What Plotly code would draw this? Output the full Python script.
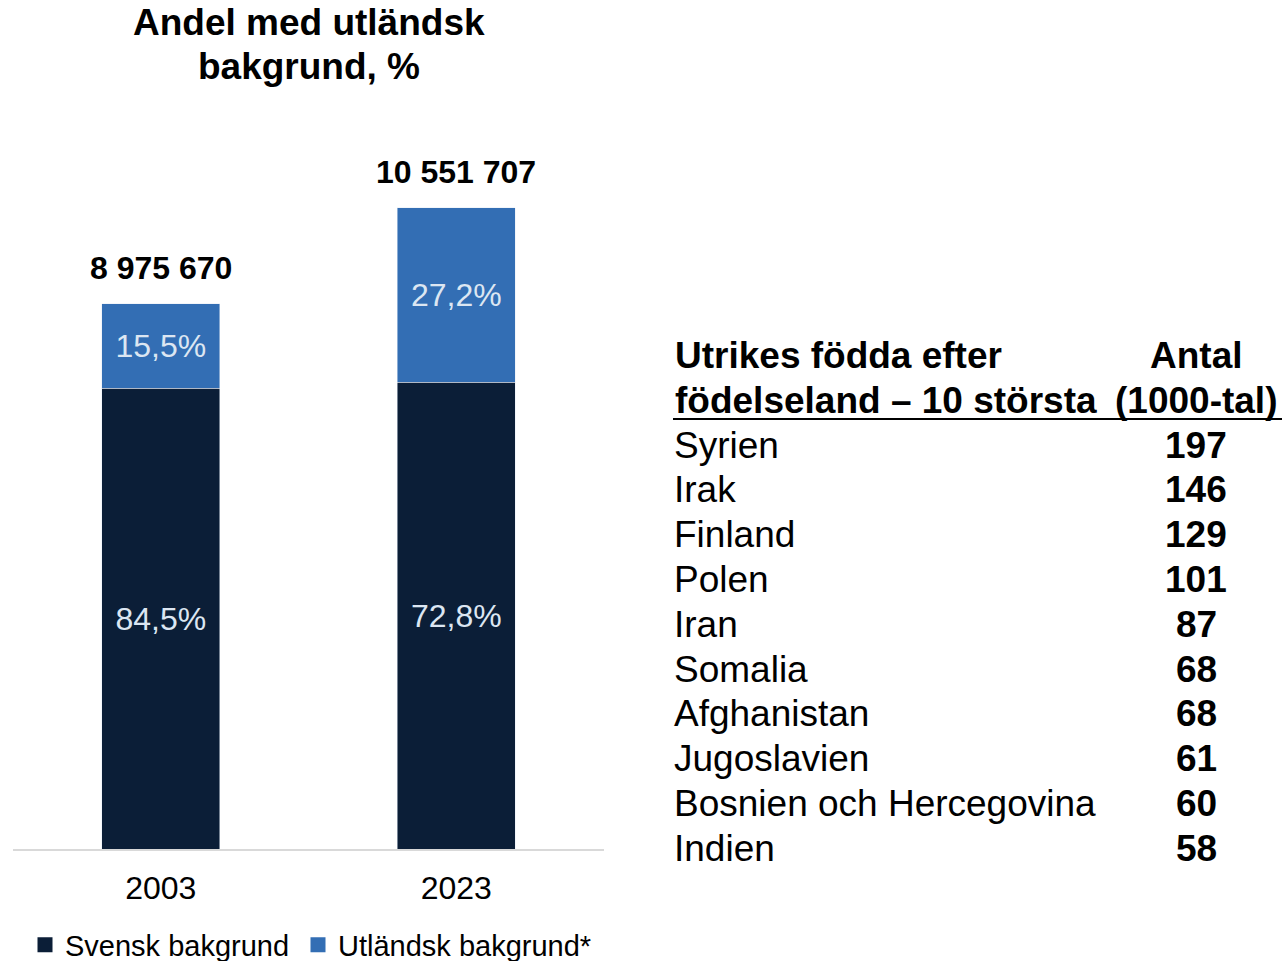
import plotly.graph_objects as go

# ---- data ----
years = ["2003", "2023"]
totals = [8975670, 10551707]
svensk_pct = [84.5, 72.8]
utl_pct = [15.5, 27.2]
series_names = ["Svensk bakgrund", "Utländsk bakgrund*"]

countries = ["Syrien", "Irak", "Finland", "Polen", "Iran", "Somalia",
             "Afghanistan", "Jugoslavien", "Bosnien och Hercegovina", "Indien"]
antal = [197, 146, 129, 101, 87, 68, 68, 61, 60, 58]

title_lines = ["Andel med utländsk", "bakgrund, %"]
table_head_left = ["Utrikes födda efter", "födelseland – 10 största"]
table_head_right = ["Antal", "(1000-tal)"]

# ---- style ----
W, H = 1284, 961
NAVY = "#0B1E37"
BLUE = "#336EB4"
LABEL = "#DCE6F2"
FONT = "Liberation Sans, Arial, sans-serif"
colors = [NAVY, BLUE]
legend_ids = ["legend", "legend2"]
legend_x = [25, 298]


def px(x):
    return x / W


def py(y):
    return 1 - y / H


def fmt_pct(v):
    return f"{v:.1f}".replace(".", ",") + "%"


def fmt_int(v):
    return f"{v:,}".replace(",", " ")


sv_vals = [t * p / 100 for t, p in zip(totals, svensk_pct)]
ut_vals = [t * p / 100 for t, p in zip(totals, utl_pct)]

fig = go.Figure()
for name, vals, pcts, col in zip(series_names, [sv_vals, ut_vals], [svensk_pct, utl_pct], colors):
    fig.add_trace(go.Bar(
        x=years, y=vals, name=name, marker_color=col, showlegend=False,
        text=[fmt_pct(v) for v in pcts], textposition="inside",
        textangle=0, insidetextanchor="middle",
        textfont=dict(color=LABEL, size=32, family=FONT),
        hoverinfo="skip"))
# legend entries with larger square swatches
for name, col, lid in zip(series_names, colors, legend_ids):
    fig.add_trace(go.Scatter(
        x=[None], y=[None], mode="markers", name=name, legend=lid,
        marker=dict(symbol="square", size=15, color=col), hoverinfo="skip"))

annotations = []
# totals above bars (x as category index)
for i, t in enumerate(totals):
    annotations.append(dict(x=i, y=t, xref="x", yref="y", text=f"<b>{fmt_int(t)}</b>",
                            showarrow=False, xanchor="center", yanchor="middle", yshift=36,
                            font=dict(size=32, color="black", family=FONT)))
# title
for i, line in enumerate(title_lines):
    annotations.append(dict(x=px(309), y=py(22 + 44 * i), xref="paper", yref="paper",
                            text=f"<b>{line}</b>", showarrow=False,
                            xanchor="center", yanchor="middle",
                            font=dict(size=37, color="black", family=FONT)))
# table header
for i, line in enumerate(table_head_left):
    annotations.append(dict(x=px(673), y=py(355 + 45 * i), xref="paper", yref="paper",
                            text=f"<b>{line}</b>", showarrow=False,
                            xanchor="left", yanchor="middle",
                            font=dict(size=37, color="black", family=FONT)))
for i, line in enumerate(table_head_right):
    annotations.append(dict(x=px(1196), y=py(355 + 45 * i), xref="paper", yref="paper",
                            text=f"<b>{line}</b>", showarrow=False,
                            xanchor="center", yanchor="middle",
                            font=dict(size=37, color="black", family=FONT)))
# table rows
row0, step = 445, 44.8
for i, (c, v) in enumerate(zip(countries, antal)):
    yy = py(row0 + step * i)
    annotations.append(dict(x=px(672), y=yy, xref="paper", yref="paper", text=c,
                            showarrow=False, xanchor="left", yanchor="middle",
                            font=dict(size=37, color="black", family=FONT)))
    annotations.append(dict(x=px(1196), y=yy, xref="paper", yref="paper", text=f"<b>{v}</b>",
                            showarrow=False, xanchor="center", yanchor="middle",
                            font=dict(size=37, color="black", family=FONT)))

legend_style = dict(orientation="h", y=py(945), xanchor="left", yanchor="middle",
                    font=dict(size=29, color="black", family=FONT),
                    itemsizing="trace", bgcolor="rgba(0,0,0,0)")

fig.update_layout(
    width=W, height=H, autosize=False,
    margin=dict(l=0, r=0, t=0, b=0, autoexpand=False),
    paper_bgcolor="white", plot_bgcolor="white",
    barmode="stack", bargap=0.6, showlegend=True,
    font=dict(family=FONT, color="black"),
    annotations=annotations,
    shapes=[dict(type="line", xref="paper", yref="paper",
                 x0=px(673), x1=px(1282), y0=py(419), y1=py(419),
                 line=dict(color="black", width=2))],
    legend=dict(x=px(legend_x[0]), **legend_style),
    legend2=dict(x=px(legend_x[1]), **legend_style),
    xaxis=dict(domain=[px(13), px(604)], type="category", range=[-0.5, 1.5],
               showline=True, automargin=False,
               linecolor="#D9D9D9", linewidth=2, showgrid=False, ticks="",
               ticklabelstandoff=10,
               tickfont=dict(size=32, color="black", family=FONT)),
    yaxis=dict(domain=[py(849), py(120)], range=[0, 12e6], visible=False,
               automargin=False, showgrid=False, zeroline=False),
)

fig.write_html("out.html", config={"displayModeBar": False},
               post_script="document.body.style.margin='0px';")
